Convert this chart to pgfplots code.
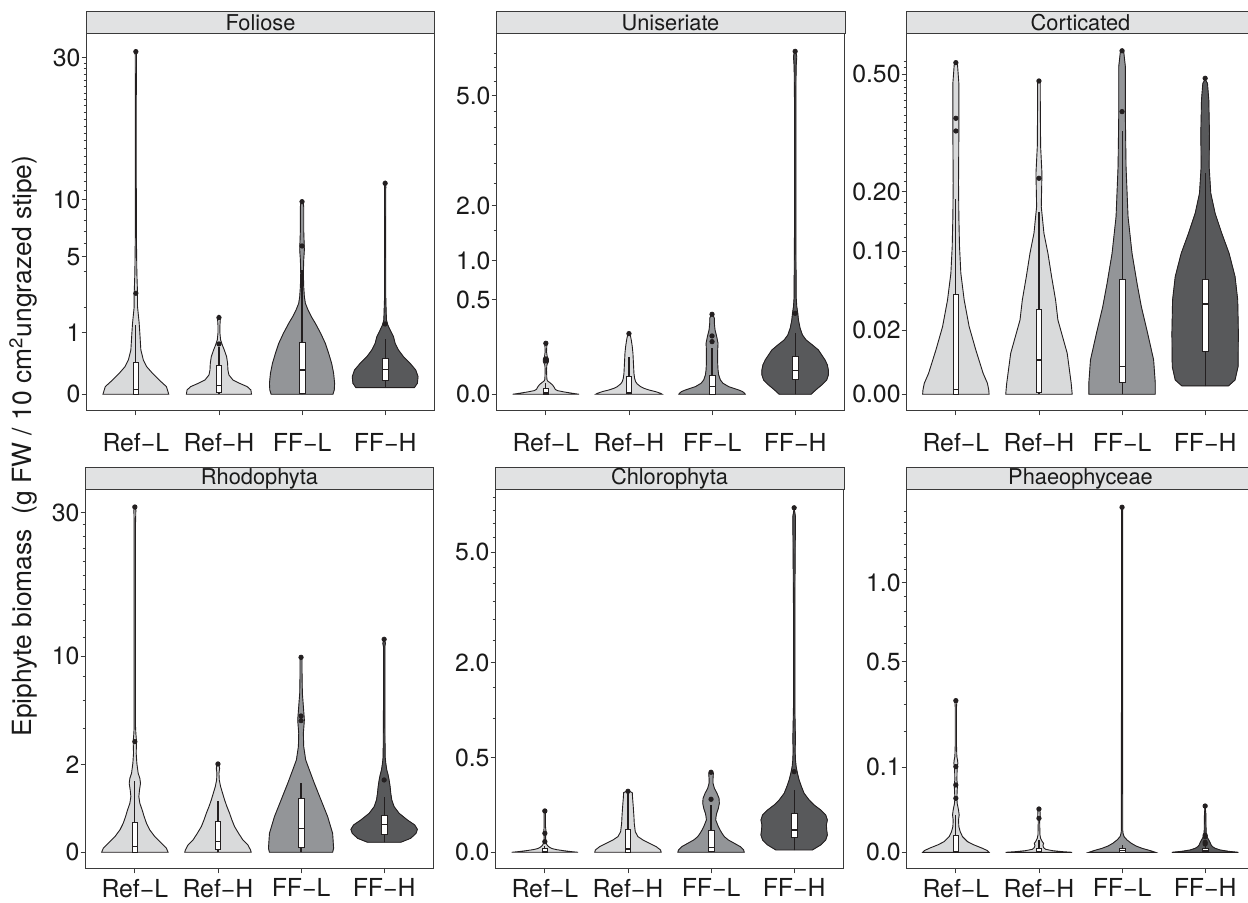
\documentclass[border=0pt]{standalone}
\usepackage{fontspec}
\setmainfont{TeX Gyre Heros}
\usepackage{pgfplots}
\usepackage{pgfplotstable}
\pgfplotsset{compat=1.18}

\definecolor{RefFill}{HTML}{D9DADB}
\definecolor{FFLFill}{HTML}{939598}
\definecolor{FFHFill}{HTML}{58595B}
\definecolor{StripFill}{HTML}{E1E2E3}
\definecolor{Ink}{HTML}{231F20}
\definecolor{Frame}{HTML}{3A3A3A}
\definecolor{Txt}{HTML}{1A1A1A}

\tikzset{vln/.style={draw=Ink, line width=0.45pt}}

% violin: position, table (y = value, w = half width), fill colour
\newcommand{\violin}[3]{%
  \addplot[fill=#3, draw=#3, line width=0.2pt] table[x expr=#1+\thisrow{w}, y=y] {#2} -- cycle;
  \addplot[fill=#3, draw=#3, line width=0.2pt] table[x expr=#1-\thisrow{w}, y=y] {#2} -- cycle;
  \addplot[vln] table[x expr=#1+\thisrow{w}, y=y] {#2};
  \addplot[vln] table[x expr=#1-\thisrow{w}, y=y] {#2};
}
% box: position, lower whisker, q1, median, q3, upper whisker
\newcommand{\bx}[6]{%
  \addplot[Ink, line width=0.55pt] table[x expr=#1, y=y, row sep=\\] {y\\ #2\\ #6\\};
  \addplot[fill=white, draw=Ink, line width=0.4pt] table[x expr=#1+\thisrow{dx}, y=y, row sep=\\]
    {dx y\\ -0.035 #3\\ 0.035 #3\\ 0.035 #5\\ -0.035 #5\\} -- cycle;
  \addplot[Ink, line width=0.6pt] table[x expr=#1+\thisrow{dx}, y=y, row sep=\\]
    {dx y\\ -0.035 #4\\ 0.035 #4\\};
}
\newcommand{\strip}[2]{%
  \draw[Frame, line width=0.5pt, fill=StripFill] (#1.north west) rectangle ([yshift=11pt]#1.north east);
  \node[font=\fontsize{10.9}{12}\selectfont, text=Txt] at ([yshift=5.5pt]#1.north) {#2};
}

\pgfplotsset{
  panel/.style={
    scale only axis, width=174.5pt, height=188.5pt, anchor=south west,
    xmin=0.4, xmax=4.6,
    xtick={1,2,3,4}, xticklabels={Ref−L,Ref−H,FF−L,FF−H},
    y filter/.expression={sqrt(y)},
    tick pos=left, tick align=outside,
    major tick length=2.2pt, minor tick length=1.2pt,
    tick style={Frame, line width=0.45pt},
    axis line style={Frame, line width=0.5pt},
    ticklabel style={font=\fontsize{12.4}{14}\selectfont, text=Txt},
    yticklabel style={xshift=3pt},
  },
  toprow/.style={panel, xticklabel style={yshift=-5.3pt}},
  botrow/.style={panel, height=189.5pt, xticklabel style={yshift=0.8pt}},
}

% ---------- Foliose ----------
\pgfplotstableread{
y w
0 0
0 0.396
0.0155 0.368
0.0543 0.28
0.1166 0.2
0.2024 0.13
0.3117 0.09
0.52 0.06
0.984 0.048
1.333 0.04
1.595 0.032
2.032 0.02
2.697 0.02
3.258 0.016
3.871 0.012
6.85 0.006
13.7 0.005
22.9 0.005
30.74 0.008
31.35 0
}\fA
\pgfplotstableread{
y w
0 0
0 0.392
0.005 0.384
0.0155 0.34
0.032 0.248
0.0543 0.168
0.0988 0.12
0.1566 0.108
0.254 0.104
0.375 0.092
0.52 0.064
0.6435 0.04
0.7805 0.02
0.984 0.012
1.271 0.012
1.461 0.016
1.595 0.008
1.664 0
}\fB
\pgfplotstableread{
y w
0 0
0 0.372
0.005 0.388
0.032 0.392
0.1166 0.38
0.254 0.356
0.4445 0.32
0.6877 0.28
0.984 0.224
1.333 0.16
1.595 0.112
1.88 0.072
2.189 0.04
2.522 0.028
3.065 0.02
3.871 0.016
4.771 0.02
5.508 0.028
6.297 0.024
7.14 0.02
8.346 0.02
9.312 0.02
9.814 0.012
9.985 0
}\fC
\pgfplotstableread{
y w
0.0118 0
0.0118 0.352
0.032 0.388
0.0825 0.396
0.1566 0.368
0.254 0.3
0.375 0.22
0.52 0.16
0.688 0.12
0.879 0.1
1.094 0.06
1.271 0.032
1.461 0.016
2.353 0.008
6.85 0.006
11.4 0.008
11.77 0.006
11.96 0
}\fD
% ---------- Uniseriate ----------
\pgfplotstableread{
y w
0 0
0 0.4
0.000056 0.32
0.000305 0.22
0.000754 0.14
0.0014 0.112
0.00275 0.1
0.00489 0.08
0.00764 0.048
0.00998 0.02
0.01262 0.012
0.0332 0.008
0.0483 0.012
0.0599 0.032
0.0687 0.032
0.0796 0.016
0.1021 0.008
0.1366 0.012
0.1498 0
}\uA
\pgfplotstableread{
y w
0 0
0 0.4
0.000056 0.38
0.0004 0.32
0.00105 0.24
0.00202 0.18
0.0033 0.14
0.006 0.1
0.009 0.08
0.01436 0.068
0.0247 0.06
0.0429 0.056
0.0661 0.052
0.0943 0.048
0.1275 0.04
0.1656 0.028
0.1866 0.02
0.2042 0.008
0.2088 0
}\uB
\pgfplotstableread{
y w
0 0
0 0.4
0.000056 0.392
0.0004 0.368
0.00105 0.32
0.00202 0.26
0.0033 0.2
0.00679 0.132
0.01153 0.1
0.021 0.08
0.0332 0.072
0.0539 0.068
0.0796 0.068
0.1103 0.068
0.1459 0.072
0.1866 0.056
0.2322 0.036
0.2829 0.028
0.3241 0.028
0.3531 0.012
0.3621 0
}\uC
\pgfplotstableread{
y w
0 0
0 0.192
0.00105 0.248
0.00489 0.32
0.01153 0.38
0.021 0.4
0.0332 0.4
0.0483 0.388
0.0661 0.36
0.0868 0.32
0.1103 0.28
0.1366 0.208
0.1656 0.132
0.1975 0.088
0.2444 0.06
0.31 0.04
0.368 0.032
0.4312 0.02
0.535 0.012
0.691 0.012
1.454 0.008
2.908 0.008
4.861 0.008
6.024 0.012
6.398 0.02
6.525 0.012
6.627 0
}\uD
% ---------- Corticated ----------
\pgfplotstableread{
y w
0 0
0 0.4
0.0000915 0.396
0.00059 0.38
0.00215 0.328
0.00958 0.24
0.0223 0.16
0.0434 0.1
0.0713 0.06
0.1063 0.044
0.1538 0.036
0.217 0.032
0.332 0.036
0.4713 0.036
0.5285 0.02
0.536 0
}\cA
\pgfplotstableread{
y w
0 0
0 0.4
0.00059 0.388
0.0082 0.34
0.0269 0.228
0.0434 0.2
0.0675 0.152
0.0969 0.108
0.1263 0.06
0.1716 0.028
0.238 0.036
0.2989 0.02
0.4222 0.016
0.4713 0.016
0.4784 0
}\cB
\pgfplotstableread{
y w
0 0
0 0.4
0.00059 0.4
0.00574 0.38
0.01813 0.308
0.03745 0.232
0.06004 0.18
0.0969 0.12
0.1538 0.072
0.2526 0.048
0.3757 0.04
0.5232 0.04
0.5722 0.02
0.5778 0
}\cC
\pgfplotstableread{
y w
0.00034 0
0.00034 0.28
0.001 0.36
0.00373 0.396
0.01813 0.4
0.0434 0.392
0.0675 0.36
0.0969 0.288
0.1263 0.2
0.1596 0.12
0.1969 0.068
0.2526 0.048
0.332 0.052
0.4222 0.044
0.4713 0.028
0.4835 0
}\cD
% ---------- Rhodophyta ----------
\pgfplotstableread{
y w
0 0
0 0.4
0.00416 0.38
0.0211 0.32
0.0639 0.24
0.1298 0.18
0.2188 0.14
0.331 0.112
0.4662 0.088
0.6246 0.06
0.806 0.048
1.0108 0.056
1.2386 0.068
1.4246 0.06
1.6236 0.04
1.8356 0.032
2.0606 0.024
2.5497 0.016
3.186 0.02
3.684 0.012
4.108 0.008
28.16 0.008
30.49 0.012
31.08 0
}\rA
\pgfplotstableread{
y w
0 0
0 0.4
0.0014 0.392
0.014 0.36
0.0396 0.3
0.0939 0.248
0.1714 0.2
0.272 0.168
0.3957 0.14
0.5425 0.108
0.7125 0.08
0.9056 0.056
1.1218 0.032
1.3611 0.016
1.6236 0.012
1.8356 0.02
1.984 0.012
2.0606 0
}\rB
\pgfplotstableread{
y w
0 0
0 0.38
0.00416 0.392
0.0939 0.38
0.331 0.32
0.7125 0.24
1.2386 0.16
1.7635 0.1
2.218 0.056
2.9046 0.032
3.684 0.028
4.5557 0.04
5.52 0.028
6.577 0.016
8.335 0.012
9.623 0.012
9.892 0
}\rC
\pgfplotstableread{
y w
0.026 0
0.026 0.2
0.051 0.32
0.0939 0.384
0.1376 0.4
0.1944 0.368
0.272 0.28
0.3957 0.18
0.5425 0.12
0.7125 0.092
0.9056 0.08
1.1218 0.072
1.3611 0.06
1.5558 0.048
1.7635 0.032
2.0606 0.02
2.381 0.012
5.52 0.008
11.004 0.008
11.363 0.016
11.8 0
}\rD
% ---------- Chlorophyta ----------
\pgfplotstableread{
y w
0 0
0 0.4
0.0000247 0.32
0.000154 0.22
0.000395 0.14
0.000746 0.088
0.00139 0.056
0.00247 0.032
0.00386 0.02
0.00632 0.012
0.01363 0.008
0.02 0.016
0.0366 0.008
0.0845 0.008
0.0949 0.02
0.0995 0
}\gA
\pgfplotstableread{
y w
0 0
0 0.4
0.0003 0.392
0.00178 0.34
0.0045 0.26
0.00845 0.18
0.01363 0.12
0.0237 0.088
0.0467 0.076
0.0706 0.072
0.1158 0.064
0.1619 0.056
0.1977 0.052
0.2112 0
}\gB
\pgfplotstableread{
y w
0 0
0 0.4
0.0003 0.392
0.00178 0.352
0.0045 0.28
0.00845 0.208
0.01363 0.16
0.02 0.132
0.0277 0.108
0.0366 0.088
0.0467 0.072
0.058 0.056
0.0706 0.06
0.0845 0.068
0.1075 0.088
0.1333 0.1
0.1619 0.096
0.1933 0.072
0.2274 0.04
0.2644 0.024
0.304 0.024
0.3465 0.028
0.3703 0
}\gC
\pgfplotstableread{
y w
0.0003 0
0.0003 0.22
0.003 0.32
0.00845 0.38
0.0167 0.4
0.0277 0.392
0.0415 0.388
0.058 0.4
0.0774 0.38
0.0995 0.32
0.1244 0.24
0.1521 0.18
0.1933 0.12
0.2394 0.088
0.2905 0.06
0.3465 0.04
0.4075 0.024
0.4734 0.016
0.5815 0.012
0.7007 0.016
1.178 0.008
3.351 0.008
6.256 0.016
6.571 0
}\gD
% ---------- Phaeophyceae ----------
\pgfplotstableread{
y w
0 0
0 0.4
0.000038 0.38
0.00022 0.32
0.00074 0.22
0.00157 0.14
0.00338 0.08
0.00588 0.052
0.00906 0.036
0.01438 0.032
0.01918 0.04
0.02466 0.032
0.033 0.016
0.0401 0.012
0.0535 0.016
0.0624 0.02
0.072 0.012
0.101 0.016
0.109 0.024
0.1173 0.02
0.1259 0.012
0.1536 0.008
0.2919 0.008
0.3123 0.012
0.3193 0
}\pA
\pgfplotstableread{
y w
0 0
0 0.4
0.000006 0.28
0.000038 0.16
0.000124 0.08
0.0003 0.056
0.00061 0.048
0.00111 0.056
0.00157 0.04
0.0027 0.02
0.00413 0.012
0.01438 0.008
0.0159 0.016
0.0254 0.012
0.0266 0
}\pB
\pgfplotstableread{
y w
0 0
0 0.4
0.000038 0.34
0.00022 0.24
0.00055 0.168
0.00111 0.112
0.00209 0.06
0.00338 0.024
0.00497 0.012
0.00686 0.008
1.62 0.006
1.638 0
}\pC
\pgfplotstableread{
y w
0 0
0 0.4
0.000014 0.28
0.000075 0.18
0.00022 0.12
0.00044 0.088
0.00074 0.072
0.00111 0.064
0.00187 0.048
0.0027 0.032
0.00338 0.02
0.00497 0.012
0.0209 0.008
0.0295 0
}\pD

\begin{document}
\begin{tikzpicture}
\useasboundingbox (0,0) rectangle (624pt,451.5pt);

\begin{axis}[toprow, name=p1, at={(43pt,246pt)},
  ymin=-0.2715, ymax=5.859,
  ytick={0,1,2.23607,3.16228,5.47723}, yticklabels={0,1,5,10,30},
  minor ytick={1.41421,2,2.44949,2.64575,2.82843,3,3.31662,3.46410,3.60555,3.74166,3.87298,4,4.12311,4.24264,4.35890,4.47214,4.58258,4.69042,4.79583,4.89898,5,5.09902,5.19615,5.29150,5.38516}]
\violin{1}{\fA}{RefFill}
\violin{2}{\fB}{RefFill}
\violin{3}{\fC}{FFLFill}
\violin{4}{\fD}{FFHFill}
\bx{1}{0}{0}{0.0066}{0.271}{1.27}
\bx{2}{0}{0.0007}{0.0199}{0.2275}{0.6}
\bx{3}{0}{0.0003}{0.1566}{0.715}{4.087}
\bx{4}{0.0118}{0.0543}{0.165}{0.3427}{0.80}
\addplot[only marks, mark=*, mark size=1.1pt, Ink] coordinates {(1,2.7)(1,31.05)(2,0.67)(2,1.554)(3,5.817)(3,9.81)(4,1.308)(4,11.77)};
\end{axis}
\strip{p1}{Foliose}

\begin{axis}[toprow, name=p2, at={(248pt,246pt)},
  ymin=-0.1251, ymax=2.699,
  ytick={0,0.70711,1,1.41421,2.23607}, yticklabels={0.0,0.5,1.0,2.0,5.0},
  minor ytick={1.22474,1.58114,1.73205,1.87083,2,2.12132,2.34521,2.44949,2.54951}]
\violin{1}{\uA}{RefFill}
\violin{2}{\uB}{RefFill}
\violin{3}{\uC}{FFLFill}
\violin{4}{\uD}{FFHFill}
\bx{1}{0}{0}{0.0001}{0.002}{0.0076}
\bx{2}{0}{0.00006}{0.0002}{0.0189}{0.0796}
\bx{3}{0}{0}{0.0033}{0.01955}{0.1187}
\bx{4}{0}{0.0126}{0.0323}{0.0825}{0.21}
\addplot[only marks, mark=*, mark size=1.1pt, Ink] coordinates {(1,0.062)(1,0.066)(1,0.07)(1,0.146)(2,0.2065)(3,0.1556)(3,0.191)(3,0.359)(4,0.368)(4,6.6)};
\end{axis}
\strip{p2}{Uniseriate}

\begin{axis}[toprow, name=p3, at={(453pt,246pt)},
  ymin=-0.03687, ymax=0.7954,
  ytick={0,0.14142,0.31623,0.44721,0.70711}, yticklabels={0.00,0.02,0.10,0.20,0.50},
  minor ytick={0.2,0.24495,0.28284,0.34641,0.37417,0.4,0.42426,0.46904,0.48990,0.50990,0.52915,0.54772,0.56569,0.58310,0.6,0.61644,0.63246,0.64807,0.66332,0.67823,0.69282,0.72111,0.73485}]
\violin{1}{\cA}{RefFill}
\violin{2}{\cB}{RefFill}
\violin{3}{\cC}{FFLFill}
\violin{4}{\cD}{FFHFill}
\bx{1}{0}{0}{0.00012}{0.0491}{0.1853}
\bx{2}{0}{0.00001}{0.00574}{0.0352}{0.1626}
\bx{3}{0}{0.0007}{0.00373}{0.0644}{0.3379}
\bx{4}{0.00034}{0.00887}{0.0398}{0.0644}{0.238}
\addplot[only marks, mark=*, mark size=1.1pt, Ink] coordinates {(1,0.3379)(1,0.3712)(1,0.536)(2,0.2274)(2,0.4784)(3,0.3894)(3,0.575)(4,0.4866)};
\end{axis}
\strip{p3}{Corticated}

\begin{axis}[botrow, name=p4, at={(42.5pt,17pt)},
  ymin=-0.2694, ymax=5.844,
  ytick={0,1.41421,3.16228,5.47723}, yticklabels={0,2,10,30},
  minor ytick={2,2.44949,2.82843,3.46410,3.74166,4,4.24264,4.47214,4.69042,4.89898,5.09902,5.29150}]
\violin{1}{\rA}{RefFill}
\violin{2}{\rB}{RefFill}
\violin{3}{\rC}{FFLFill}
\violin{4}{\rD}{FFHFill}
\bx{1}{0}{0}{0.0084}{0.2341}{1.336}
\bx{2}{0}{0.0023}{0.0296}{0.2447}{0.6944}
\bx{3}{0}{0.0065}{0.1498}{0.7586}{1.2626}
\bx{4}{0.026}{0.0843}{0.204}{0.3498}{0.806}
\addplot[only marks, mark=*, mark size=1.1pt, Ink] coordinates {(1,3.186)(1,31.02)(2,2.03)(3,4.51)(3,4.835)(3,9.89)(4,1.3611)(4,11.8)};
\end{axis}
\strip{p4}{Rhodophyta}

\begin{axis}[botrow, name=p5, at={(247.5pt,17pt)},
  ymin=-0.1244, ymax=2.6997,
  ytick={0,0.70711,1.41421,2.23607}, yticklabels={0.0,0.5,2.0,5.0},
  minor ytick={1,1.22474,1.58114,1.73205,1.87083,2,2.12132,2.34521,2.44949,2.54951,2.64575}]
\violin{1}{\gA}{RefFill}
\violin{2}{\gB}{RefFill}
\violin{3}{\gC}{FFLFill}
\violin{4}{\gD}{FFHFill}
\bx{1}{0}{0}{0.00002}{0.00089}{0.002}
\bx{2}{0}{0}{0.0006}{0.0294}{0.2044}
\bx{3}{0}{0.00006}{0.00139}{0.0261}{0.1244}
\bx{4}{0.0003}{0.0125}{0.0277}{0.0845}{0.2157}
\addplot[only marks, mark=*, mark size=1.1pt, Ink] coordinates {(1,0.0063)(1,0.02)(1,0.0949)(2,0.2066)(3,0.156)(3,0.3554)(4,0.3613)(4,6.59)};
\end{axis}
\strip{p5}{Chlorophyta}

\begin{axis}[botrow, name=p6, at={(453pt,17pt)},
  ymin=-0.0619, ymax=1.3439,
  ytick={0,0.31623,0.70711,1}, yticklabels={0.0,0.1,0.5,1.0},
  minor ytick={0.44721,0.54772,0.63246,0.77460,0.83666,0.89443,0.94868,1.04881,1.09545,1.14018,1.18322,1.22474,1.26491}]
\violin{1}{\pA}{RefFill}
\violin{2}{\pB}{RefFill}
\violin{3}{\pC}{FFLFill}
\violin{4}{\pD}{FFHFill}
\bx{1}{0}{0}{0.00001}{0.0038}{0.0192}
\bx{2}{0}{0}{0.00001}{0.00022}{0.0021}
\bx{3}{0}{0}{0.00004}{0.00022}{0.00074}
\bx{4}{0}{0.000006}{0.00005}{0.00022}{0.0006}
\addplot[only marks, mark=*, mark size=1.1pt, Ink] coordinates {(1,0.0401)(1,0.0624)(1,0.101)(1,0.3165)(2,0.0159)(2,0.0258)(3,1.638)(4,0.00096)(4,0.00138)(4,0.00338)(4,0.004)(4,0.0295)};
\end{axis}
\strip{p6}{Phaeophyceae}

\node[rotate=90, font=\fontsize{13.2}{15}\selectfont, text=Txt] at (11.5pt,228.5pt)
  {Epiphyte biomass\ \ (g FW / 10 cm\textsuperscript{2}ungrazed stipe)};
\end{tikzpicture}
\end{document}
